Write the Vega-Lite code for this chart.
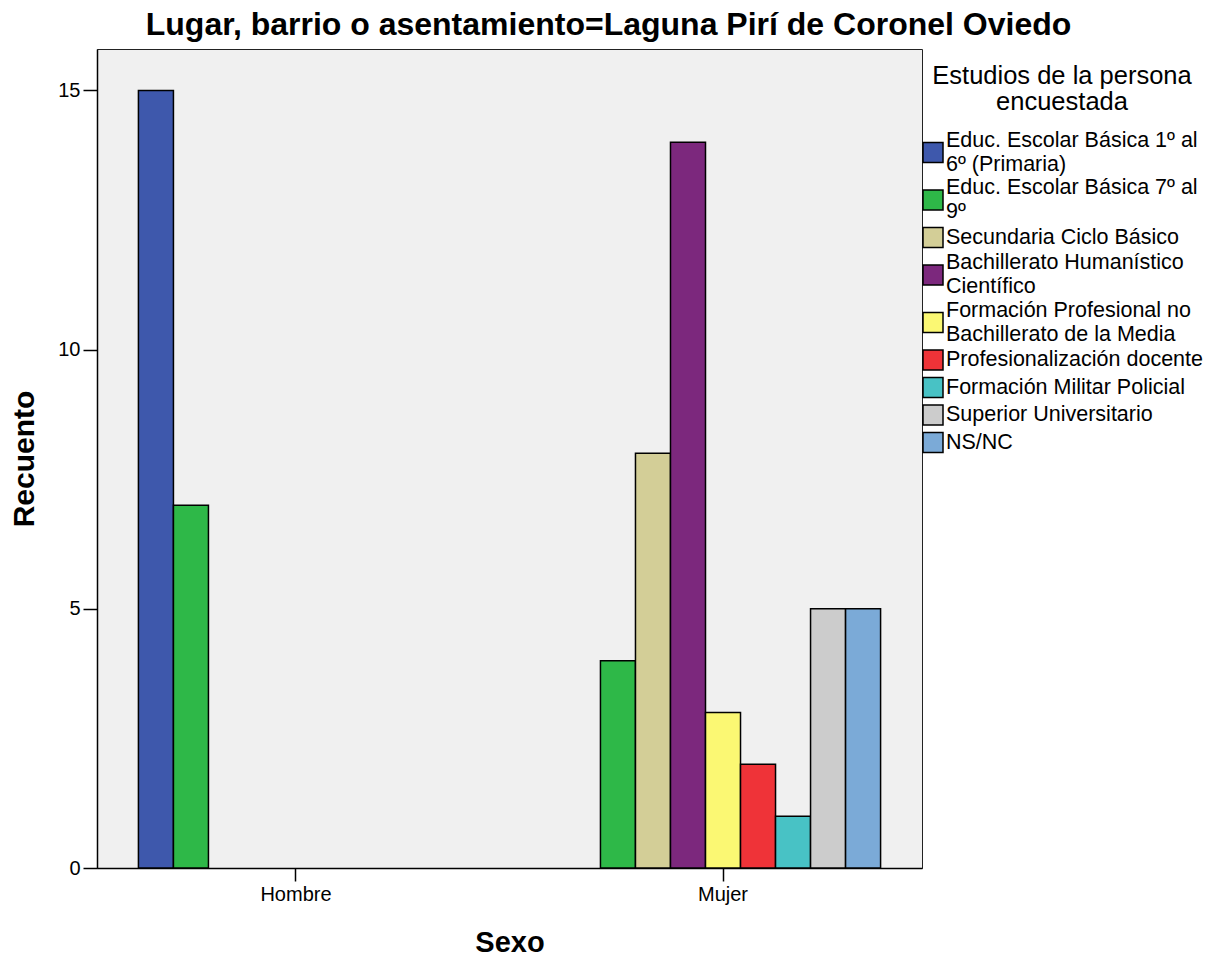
{
  "$schema": "https://vega.github.io/schema/vega-lite/v6.json",
  "autosize": {"type": "none"},
  "padding": {"left": 97, "top": 49, "right": 298, "bottom": 90},
  "width": 825,
  "height": 819,
  "background": "white",
  "title": {
    "text": "Lugar, barrio o asentamiento=Laguna Pirí de Coronel Oviedo",
    "fontSize": 32,
    "fontWeight": "bold",
    "font": "Liberation Sans",
    "color": "black",
    "anchor": "middle",
    "baseline": "alphabetic",
    "dx": 99,
    "dy": 33,
    "offset": 15
  },
  "data": {
    "values": [
      {"Sexo": "Hombre", "Estudios": "Educ. Escolar Básica 1º al 6º (Primaria)", "Recuento": 15},
      {"Sexo": "Hombre", "Estudios": "Educ. Escolar Básica 7º al 9º", "Recuento": 7},
      {"Sexo": "Mujer", "Estudios": "Educ. Escolar Básica 7º al 9º", "Recuento": 4},
      {"Sexo": "Mujer", "Estudios": "Secundaria Ciclo Básico", "Recuento": 8},
      {"Sexo": "Mujer", "Estudios": "Bachillerato Humanístico Científico", "Recuento": 14},
      {"Sexo": "Mujer", "Estudios": "Formación Profesional no Bachillerato de la Media", "Recuento": 3},
      {"Sexo": "Mujer", "Estudios": "Profesionalización docente", "Recuento": 2},
      {"Sexo": "Mujer", "Estudios": "Formación Militar Policial", "Recuento": 1},
      {"Sexo": "Mujer", "Estudios": "Superior Universitario", "Recuento": 5},
      {"Sexo": "Mujer", "Estudios": "NS/NC", "Recuento": 5}
    ]
  },
  "mark": {"type": "bar", "stroke": "black", "strokeWidth": 1.5},
  "encoding": {
    "x": {
      "field": "Sexo",
      "type": "nominal",
      "scale": {"domain": ["Hombre", "Mujer"], "paddingInner": 0.262, "paddingOuter": 0.097},
      "axis": {
        "title": "Sexo",
        "labelAngle": 0,
        "labelFontSize": 20,
        "labelColor": "black",
        "labelPadding": 3,
        "tickSize": 13,
        "tickColor": "black",
        "tickWidth": 1.5,
        "domainColor": "black",
        "domainWidth": 1.5,
        "titleFontSize": 29,
        "titleFontWeight": "bold",
        "titleColor": "black",
        "titlePadding": 24
      }
    },
    "xOffset": {
      "field": "Estudios",
      "type": "nominal",
      "scale": {
        "domain": [
          "Educ. Escolar Básica 1º al 6º (Primaria)",
          "Educ. Escolar Básica 7º al 9º",
          "Secundaria Ciclo Básico",
          "Bachillerato Humanístico Científico",
          "Formación Profesional no Bachillerato de la Media",
          "Profesionalización docente",
          "Formación Militar Policial",
          "Superior Universitario",
          "NS/NC"
        ],
        "paddingInner": 0,
        "paddingOuter": 0
      }
    },
    "y": {
      "field": "Recuento",
      "type": "quantitative",
      "scale": {"domain": [0, 15.8], "nice": false},
      "axis": {
        "title": "Recuento",
        "values": [0, 5, 10, 15],
        "grid": false,
        "labelFontSize": 20,
        "labelColor": "black",
        "labelPadding": 3,
        "tickSize": 14,
        "tickColor": "black",
        "tickWidth": 1.5,
        "domainColor": "black",
        "domainWidth": 1.5,
        "titleFontSize": 30,
        "titleFontWeight": "bold",
        "titleColor": "black",
        "titlePadding": 18
      }
    },
    "color": {
      "field": "Estudios",
      "type": "nominal",
      "scale": {
        "domain": [
          "Educ. Escolar Básica 1º al 6º (Primaria)",
          "Educ. Escolar Básica 7º al 9º",
          "Secundaria Ciclo Básico",
          "Bachillerato Humanístico Científico",
          "Formación Profesional no Bachillerato de la Media",
          "Profesionalización docente",
          "Formación Militar Policial",
          "Superior Universitario",
          "NS/NC"
        ],
        "range": ["#3E58AC", "#2EB848", "#D3CE97", "#7C287D", "#FBF873", "#EF3338", "#48C2C5", "#CCCCCC", "#7BAAD7"]
      },
      "legend": {
        "title": ["Estudios de la persona", "encuestada"],
        "orient": "none",
        "legendX": 825,
        "legendY": 15,
        "padding": 0,
        "titleFontSize": 25.5,
        "titleFontWeight": "normal",
        "titleColor": "black",
        "titleAnchor": "middle",
        "titleAlign": "center",
        "titleLineHeight": 26,
        "titleLimit": 600,
        "titlePadding": 26,
        "labelFontSize": 21.5,
        "labelColor": "black",
        "labelOffset": 2,
        "labelLimit": 400,
        "rowPadding": 1.5,
        "symbolType": "square",
        "symbolSize": 400,
        "symbolStrokeColor": "black",
        "symbolStrokeWidth": 1.5,
        "symbolOpacity": 1,
        "labelExpr": "datum.label == 'Educ. Escolar Básica 1º al 6º (Primaria)' ? ['Educ. Escolar Básica 1º al', '6º (Primaria)'] : datum.label == 'Educ. Escolar Básica 7º al 9º' ? ['Educ. Escolar Básica 7º al', '9º'] : datum.label == 'Bachillerato Humanístico Científico' ? ['Bachillerato Humanístico', 'Científico'] : datum.label == 'Formación Profesional no Bachillerato de la Media' ? ['Formación Profesional no', 'Bachillerato de la Media'] : datum.label",
        "encoding": {
          "labels": {
            "dy": {
              "condition": {
                "test": "indexof(['Educ. Escolar Básica 1º al 6º (Primaria)', 'Educ. Escolar Básica 7º al 9º', 'Bachillerato Humanístico Científico', 'Formación Profesional no Bachillerato de la Media'], datum.value) >= 0",
                "value": -12
              },
              "value": 0
            }
          }
        }
      }
    }
  },
  "config": {
    "font": "Liberation Sans",
    "view": {"fill": "#f0f0f0", "stroke": "#222222", "strokeWidth": 1},
    "style": {"guide-label": {"lineHeight": 24}}
  }
}
